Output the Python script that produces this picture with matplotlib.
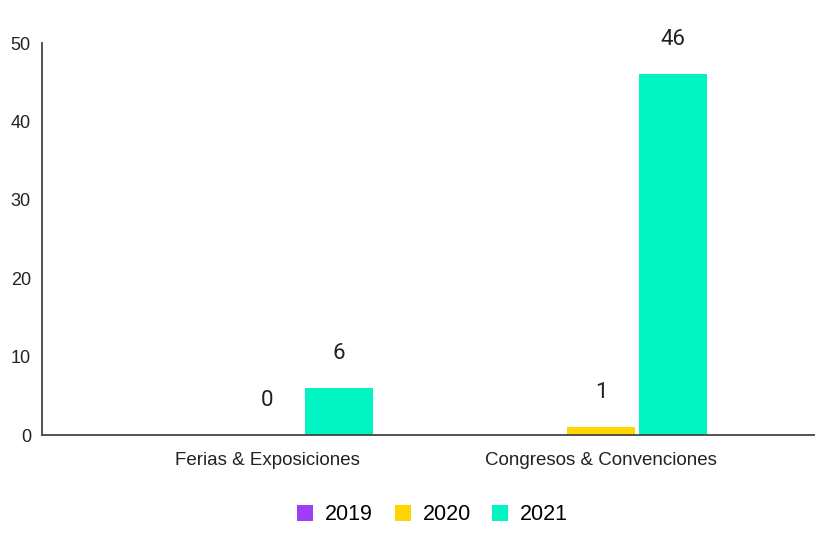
import numpy as np
import matplotlib.pyplot as plt

categories = ["Ferias & Exposiciones", "Congresos & Convenciones"]
years = ["2019", "2020", "2021"]
values_2019 = [np.nan, np.nan]
values_2020 = [0, 1]
values_2021 = [6, 46]
colors = ["#9d3ff2", "#ffd600", "#00f5c2"]

series = [values_2019, values_2020, values_2021]

plt.rcParams["font.family"] = ["Liberation Sans", "DejaVu Sans"]

fig = plt.figure(figsize=(8.15, 5.33), dpi=100)
ax = fig.add_axes([42 / 815, 98 / 533, 773 / 815, 392 / 533])

x = np.arange(len(categories))
step = 0.2156
bar_width = 0.2036

for i, (year, vals) in enumerate(zip(years, series)):
    offs = (i - 1) * step
    for j, v in enumerate(vals):
        if np.isnan(v):
            continue
        ax.bar(x[j] + offs, v, bar_width, color=colors[i], zorder=2)
        ax.text(x[j] + offs, v + 4.4, f"{v:g}", ha="center", va="center",
                fontsize=16, color="#222222", family=["Roboto", "DejaVu Sans"])

# legend handles
for i, year in enumerate(years):
    ax.bar(np.nan, np.nan, color=colors[i], label=year)

ax.set_xlim(-0.674, 1.641)
ax.set_ylim(0, 50)
ax.set_yticks([0, 10, 20, 30, 40, 50])
ax.set_xticks(x)
ax.set_xticklabels(categories, fontsize=13.5, color="#222222")
ax.tick_params(axis="y", length=0, pad=8, labelsize=13, labelcolor="#222222")
ax.tick_params(axis="x", length=0, pad=12)

for s in ["top", "right"]:
    ax.spines[s].set_visible(False)
for s in ["left", "bottom"]:
    ax.spines[s].set_color("#444444")
    ax.spines[s].set_linewidth(1.3)

fig.legend(loc="lower center", bbox_to_anchor=(0.531, -0.022), ncol=3,
           frameon=False, fontsize=15.5, handlelength=0.75, handleheight=0.75,
           handletextpad=0.55, columnspacing=1.0)

plt.savefig("out.png", dpi=100)
plt.close()
